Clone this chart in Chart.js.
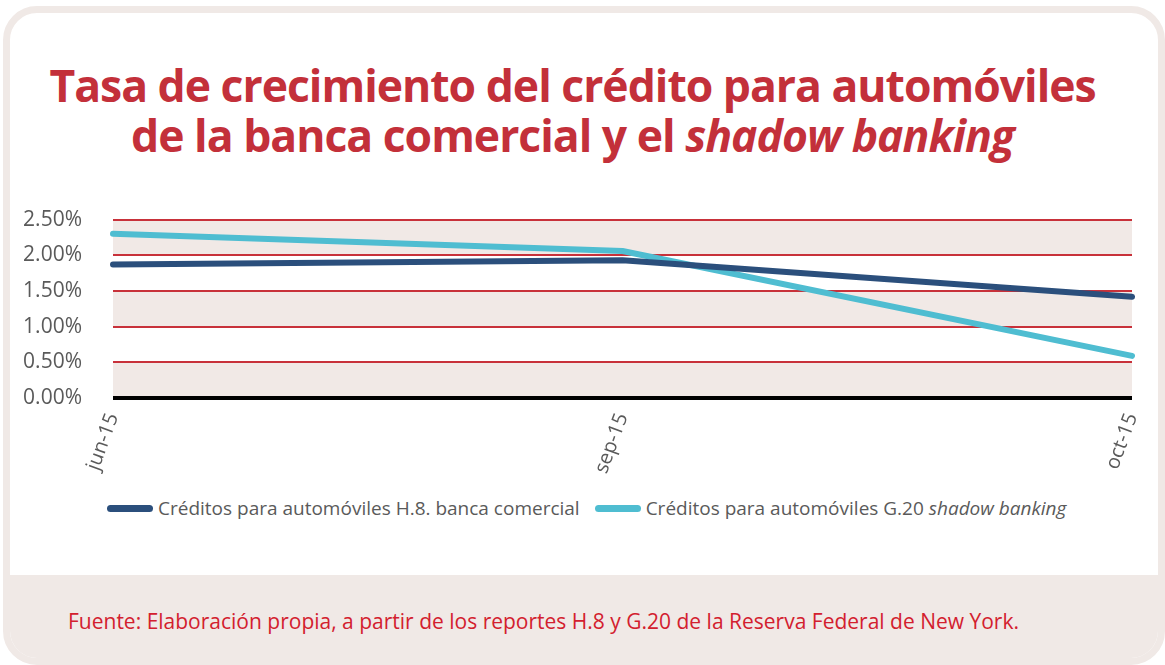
<!DOCTYPE html>
<html>
<head>
<meta charset="utf-8">
<script src="https://cdn.jsdelivr.net/npm/chart.js@4"></script>
<style>
  html, body { margin: 0; padding: 0; background: #fff; }
  body { width: 1165px; height: 665px; position: relative; overflow: hidden; font-family: "Open Sans", sans-serif; }
  #card {
    position: absolute; left: 3px; top: 6px; width: 1148px; height: 645px;
    border: 7px solid #f0e9e6; border-radius: 34px; background: #fff; overflow: hidden;
  }
  #foot {
    position: absolute; left: 0; right: 0; top: 562px; bottom: 0; background: #f0e9e6;
  }
  #title {
    position: absolute; left: -10px; width: 1165px; top: 60px; text-align: center;
    color: #c3303a; font-weight: 700; font-size: 44.5px; line-height: 50px; letter-spacing: -1px;
  }
  #wrap { position: absolute; left: 0; top: 176px; width: 1165px; height: 314px; }
  #legend {
    position: absolute; left: 107px; top: 495px; font-size: 19px; color: #5a5a5a;
    white-space: nowrap;
  }
  #legend .item { display: inline-block; margin-right: 15px; }
  #legend .sw { display: inline-block; width: 46px; height: 7px; border-radius: 4px; vertical-align: middle; margin-right: 5px; position: relative; top: -1px; }
  #source {
    position: absolute; left: 68px; top: 607px; font-size: 21px; color: #d3202e; white-space: nowrap;
  }
</style>
</head>
<body>
<div id="card"><div id="foot"></div></div>
<div id="title">Tasa de crecimiento del crédito para automóviles<br>de la banca comercial y el <i>shadow banking</i></div>
<div id="wrap"><canvas id="chart"></canvas></div>
<div id="legend"></div>
<div id="source">Fuente: Elaboración propia, a partir de los reportes H.8 y G.20 de la Reserva Federal de New York.</div>
<script>
// Data (percent)
var months = ['jun-15', 'sep-15', 'oct-15'];
var comercial = [1.87, 1.93, 1.42];
var shadow = [2.30, 2.06, 0.59];
var yTicks = [0, 0.5, 1, 1.5, 2, 2.5];

var legendNames = [
  'Créditos para automóviles H.8. banca comercial',
  'Créditos para automóviles G.20 <i>shadow banking</i>'
];

// alternating bands behind the grid
var bandsPlugin = {
  id: 'bands',
  beforeDraw: function(chart) {
    var ctx = chart.ctx, area = chart.chartArea, y = chart.scales.y;
    ctx.save();
    ctx.fillStyle = '#f1e9e6';
    for (var i = 0; i < yTicks.length - 1; i += 2) {
      var top = y.getPixelForValue(yTicks[i + 1]);
      var bottom = y.getPixelForValue(yTicks[i]);
      ctx.fillRect(area.left, top, area.right - area.left, bottom - top);
    }
    ctx.restore();
  }
};

var chart = new Chart(document.getElementById('chart'), {
  type: 'line',
  data: {
    labels: months,
    datasets: [
      { label: 'comercial', data: comercial, borderColor: '#2b4f7c', borderWidth: 6,
        pointRadius: 0, borderCapStyle: 'round', borderJoinStyle: 'round', tension: 0 },
      { label: 'shadow', data: shadow, borderColor: '#4fbdd1', borderWidth: 6,
        pointRadius: 0, borderCapStyle: 'round', borderJoinStyle: 'round', tension: 0 }
    ]
  },
  options: {
    responsive: true,
    maintainAspectRatio: false,
    animation: false,
    layout: { padding: { top: 19, right: 33, left: 0, bottom: 0 } },
    plugins: { legend: { display: false }, tooltip: { enabled: false } },
    scales: {
      x: {
        grid: { display: false },
        border: { display: false },
        ticks: { color: '#5a5a5a', font: { family: 'Open Sans', size: 20 }, minRotation: 70, maxRotation: 70, padding: 4 },
        afterFit: function(scale) { scale.height = 92; }
      },
      y: {
        min: 0, max: 2.5,
        border: { display: false },
        grid: {
          drawTicks: false,
          color: function(c) { return c.tick.value === 0 ? '#000' : '#c8313a'; },
          lineWidth: function(c) { return c.tick.value === 0 ? 4 : 2; }
        },
        ticks: {
          stepSize: 0.5, padding: 31, color: '#5a5a5a',
          font: { family: 'Open Sans', size: 21 },
          callback: function(v) { return v.toFixed(2) + '%'; }
        },
        afterFit: function(scale) { scale.width = 113; }
      }
    }
  },
  plugins: [bandsPlugin]
});

// legend built from the datasets
var html = '';
chart.data.datasets.forEach(function(ds, i) {
  html += '<span class="item"><span class="sw" style="background:' + ds.borderColor + '"></span>' + legendNames[i] + '</span>';
});
document.getElementById('legend').innerHTML = html;
</script>
</body>
</html>
